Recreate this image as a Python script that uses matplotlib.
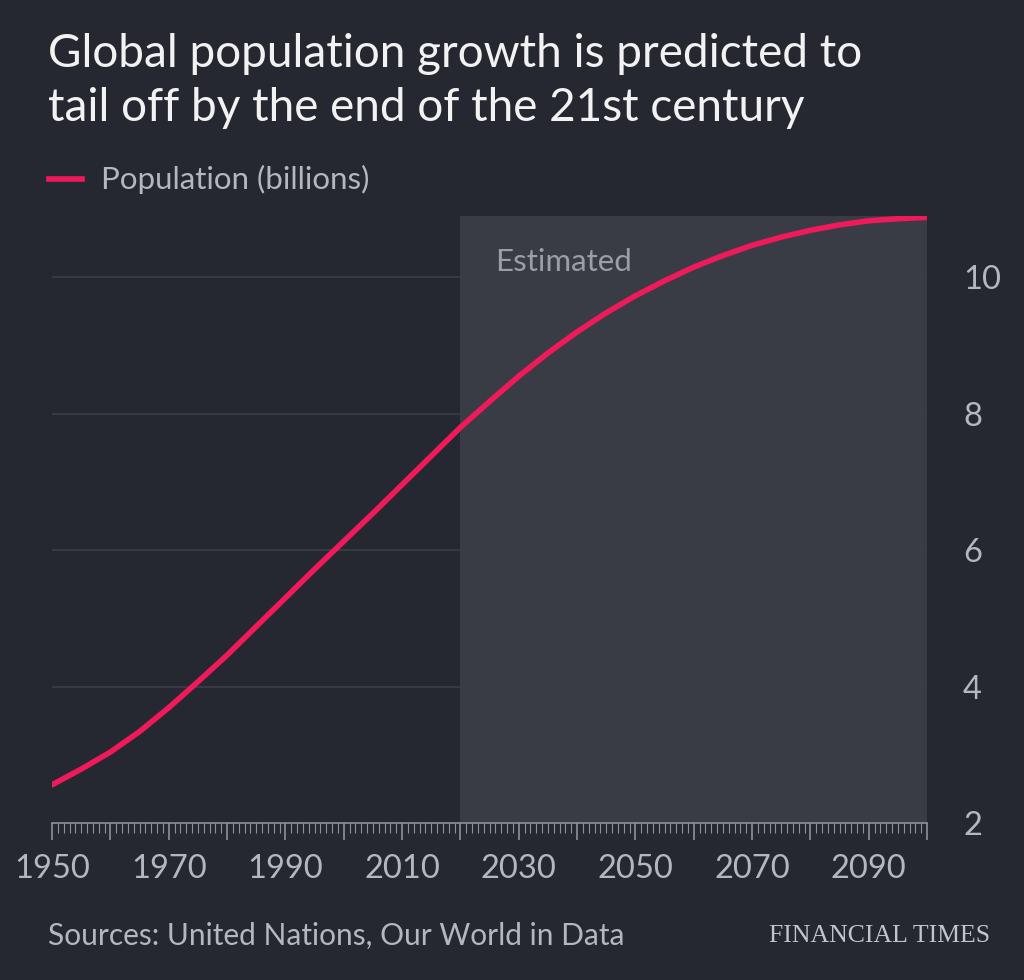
import matplotlib.pyplot as plt
from matplotlib.ticker import MultipleLocator

# population mondiale (milliards), ONU
years = [1950, 1955, 1960, 1965, 1970, 1975, 1980, 1985, 1990, 1995, 2000,
         2005, 2010, 2015, 2020, 2025, 2030, 2035, 2040, 2045, 2050, 2055,
         2060, 2065, 2070, 2075, 2080, 2085, 2090, 2095, 2100]
population = [2.56, 2.79, 3.04, 3.34, 3.69, 4.07, 4.46, 4.88, 5.30, 5.72, 6.13,
              6.54, 6.96, 7.38, 7.80, 8.18, 8.55, 8.89, 9.20, 9.48, 9.73, 9.95,
              10.15, 10.32, 10.47, 10.59, 10.69, 10.77, 10.83, 10.86, 10.88]
estimate_start = 2020
x_labels = [1950, 1970, 1990, 2010, 2030, 2050, 2070, 2090]
y_ticks = [2, 4, 6, 8, 10]

bg = '#252830'
shade = '#393c45'
red = '#f0195a'
grey = '#b4b7bd'

plt.rcParams['font.family'] = ['Lato', 'DejaVu Sans']

fig = plt.figure(figsize=(10.24, 9.8), dpi=100, facecolor=bg)
ax = fig.add_axes([0.0508, 0.1602, 0.8545, 0.6194], facecolor=bg)

ax.axvspan(estimate_start, 2100, color=shade, zorder=0, lw=0)
for v in y_ticks[1:]:
    ax.axhline(v, color='#3a3e47', lw=1.2, zorder=1)
ax.plot(years, population, color=red, lw=4, solid_capstyle='round', zorder=3)

ax.set_xlim(1950, 2100)
ax.set_ylim(2, 10.9)

for s in ['top', 'left', 'right']:
    ax.spines[s].set_visible(False)
ax.spines['bottom'].set_color('#8e9197')
ax.spines['bottom'].set_linewidth(1.2)

ax.xaxis.set_minor_locator(MultipleLocator(1))
ax.set_xticks(range(1950, 2101, 10))
ax.set_xticklabels([str(y) if y in x_labels else '' for y in range(1950, 2101, 10)])
ax.tick_params(axis='x', which='major', length=12, width=1.2, color='#8e9197',
               labelsize=23.5, labelcolor=grey, pad=10)
ax.tick_params(axis='x', which='minor', length=7, width=0.8, color='#8e9197')

ax.yaxis.tick_right()
ax.set_yticks(y_ticks)
ax.set_yticklabels([str(v) for v in y_ticks])
ax.tick_params(axis='y', length=0, labelsize=23.5, labelcolor=grey, pad=26)

ax.text(2026, 10.22, 'Estimated', color='#9b9ea5', fontsize=22.5, va='center')

fig.text(0.047, 0.966, 'Global population growth is predicted to\ntail off by the end of the 21st century',
         color='#f2f2f2', fontsize=33, va='top', linespacing=1.33)

fig.add_artist(plt.Line2D([0.048, 0.080], [0.817, 0.817], color=red, lw=4))
fig.text(0.099, 0.817, 'Population (billions)', color=grey, fontsize=22.5, va='center')

fig.text(0.047, 0.045, 'Sources: United Nations, Our World in Data', color=grey,
         fontsize=21.5, va='center')
fig.text(0.967, 0.045, 'FINANCIAL TIMES', color='#c2c4c8', fontsize=18.5, va='center',
         ha='right', family=['Liberation Serif', 'DejaVu Serif'])

fig.savefig('out.png', facecolor=bg)
